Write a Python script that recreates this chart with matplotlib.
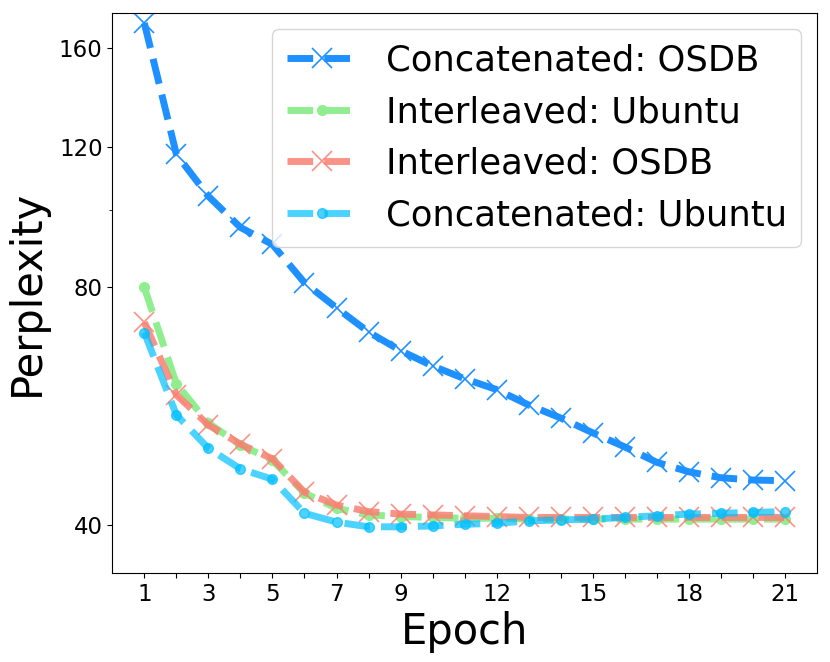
import matplotlib
matplotlib.use("Agg")
import matplotlib.pyplot as plt
from matplotlib.ticker import NullFormatter

# ── data ───────────────────────────────────────────────────────────────────────
epochs = list(range(1, 22))
concat_osdb = [172.0, 117.5, 104.0, 95.0, 90.4, 80.9, 75.2, 70.1, 66.4, 63.5, 61.2,
               59.3, 56.7, 54.6, 52.3, 50.2, 48.0, 46.7, 45.9, 45.6, 45.5]
inter_ubuntu = [79.8, 60.3, 53.8, 50.5, 48.3, 43.9, 42.0, 41.2, 41.0, 40.9, 40.8,
                40.8, 40.7, 40.7, 40.7, 40.7, 40.7, 40.7, 40.7, 40.7, 40.7]
inter_osdb = [72.1, 58.4, 53.5, 50.6, 48.5, 44.0, 42.4, 41.6, 41.3, 41.2, 41.1,
              41.0, 40.9, 40.9, 40.9, 40.9, 40.9, 40.9, 40.9, 40.9, 40.9]
concat_ubuntu = [70.0, 55.1, 50.0, 47.1, 45.7, 41.4, 40.35, 39.8, 39.8, 39.9, 40.1,
                 40.2, 40.5, 40.6, 40.7, 40.9, 41.1, 41.3, 41.4, 41.5, 41.6]

xtick_labels = ["1", "", "3", "", "5", "", "7", "", "9", "", "", "12", "", "",
                "15", "", "", "18", "", "", "21"]
yticks = [40, 80, 120, 160]
yminor = [100]

fig = plt.figure(figsize=(8.3, 6.62), dpi=100)
ax = fig.add_axes([0.1353, 0.1344, 0.849, 0.8456])

ax.plot(epochs, concat_osdb, "--", color="dodgerblue", lw=5, marker="x",
        ms=15, mew=1.2, label="Concatenated: OSDB")
ax.plot(epochs, inter_ubuntu, "--", color="lightgreen", lw=5, marker="o",
        ms=7, label="Interleaved: Ubuntu")
ax.plot(epochs, inter_osdb, "--", color="salmon", lw=5, marker="x",
        ms=15, mew=1.2, alpha=0.85, label="Interleaved: OSDB")
ax.plot(epochs, concat_ubuntu, "--", color="deepskyblue", lw=5, marker="o",
        ms=7, alpha=0.7, label="Concatenated: Ubuntu")

ax.set_yscale("log")
ax.set_ylim(34.8, 177)
ax.set_xlim(0, 22)
ax.set_yticks(yticks)
ax.set_yticklabels([str(v) for v in yticks])
ax.set_yticks(yminor, minor=True)
ax.yaxis.set_minor_formatter(NullFormatter())
ax.set_xticks(epochs)
ax.set_xticklabels(xtick_labels)
ax.tick_params(axis="both", which="major", labelsize=16.5)

ax.set_xlabel("Epoch", fontsize=30)
ax.set_ylabel("Perplexity", fontsize=30, labelpad=8)
ax.legend(loc="upper right", fontsize=25.5, labelspacing=0.5, borderaxespad=0.45)

fig.savefig("out.png", dpi=100)
